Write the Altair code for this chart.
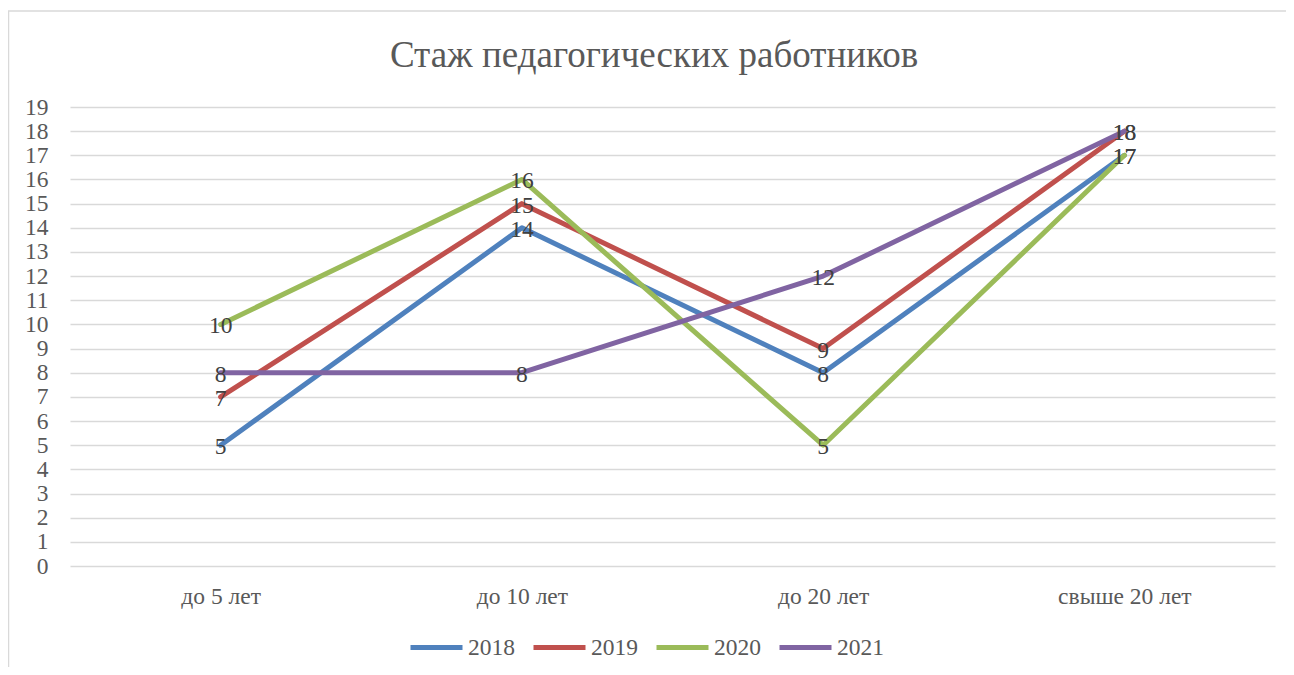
import altair as alt
import pandas as pd

categories = ["до 5 лет", "до 10 лет", "до 20 лет", "свыше 20 лет"]
years = ["2018", "2019", "2020", "2021"]
v2018 = [5, 14, 8, 17]
v2019 = [7, 15, 9, 18]
v2020 = [10, 16, 5, 17]
v2021 = [8, 8, 12, 18]
y_ticks = list(range(0, 20))
colors = ["#4F81BD", "#C0504D", "#9BBB59", "#8064A2"]
title_text = "Стаж педагогических работников"

series = {"2018": v2018, "2019": v2019, "2020": v2020, "2021": v2021}
rows = []
for yr in years:
    for c, v in zip(categories, series[yr]):
        rows.append({"cat": c, "year": yr, "value": v})
df = pd.DataFrame(rows)

FONT = "Liberation Serif"
FS = 23.5

x_enc = alt.X("cat:N", sort=categories, scale=alt.Scale(type="point", padding=0.5),
              axis=alt.Axis(title=None, labelAngle=0, domain=False, ticks=False, labelPadding=18,
                            labelFontSize=FS, labelFont=FONT, labelColor="#595959", grid=False))
y_enc = alt.Y("value:Q", scale=alt.Scale(domain=[0, 19], nice=False, zero=True),
              axis=alt.Axis(title=None, values=y_ticks, domain=False, ticks=False, labelPadding=22,
                            labelFontSize=FS, labelFont=FONT, labelColor="#595959", labelOverlap=False,
                            grid=True, gridColor="#D9D9D9", gridWidth=1.5))

color_enc = alt.Color("year:N", scale=alt.Scale(domain=years, range=colors),
                      legend=alt.Legend(title=None, orient="none", direction="horizontal",
                                        legendX=338, legendY=512,
                                        symbolType="stroke", symbolSize=2704, symbolStrokeWidth=5,
                                        labelFontSize=FS, labelFont=FONT, labelColor="#595959",
                                        labelOffset=3, columnPadding=8, padding=0))

lines = alt.Chart(df).mark_line(strokeWidth=5, strokeCap="round", strokeJoin="round").encode(
    x=x_enc, y=y_enc, color=color_enc
)

labels = alt.Chart(df).mark_text(fontSize=FS, font=FONT, color="#404040", baseline="middle",
                                 align="center", dy=2).encode(
    x=x_enc, y=y_enc, text="value:Q"
)

title = alt.Chart(pd.DataFrame({"t": [title_text]})).mark_text(
    fontSize=37, font=FONT, color="#595959", align="center", baseline="middle"
).encode(x=alt.value(584), y=alt.value(-51), text="t:N")

border = alt.Chart(pd.DataFrame({"a": [0]})).mark_rect(
    fill=None, stroke="#D9D9D9", strokeWidth=1.5, clip=False
).encode(x=alt.value(-61.5), x2=alt.value(1240), y=alt.value(-96), y2=alt.value(600))

chart = alt.layer(border, lines, labels, title).properties(
    width=1205, height=459,
    autosize=alt.AutoSizeParams(type="none"),
    padding={"left": 62, "top": 99, "right": 11, "bottom": 101},
).configure(
    background="white", view=alt.ViewConfig(stroke=None), font=FONT
).configure_axis(labelFont=FONT).configure_legend(labelFont=FONT)

chart.save("out.html", embed_options={"renderer": "svg", "actions": False})
